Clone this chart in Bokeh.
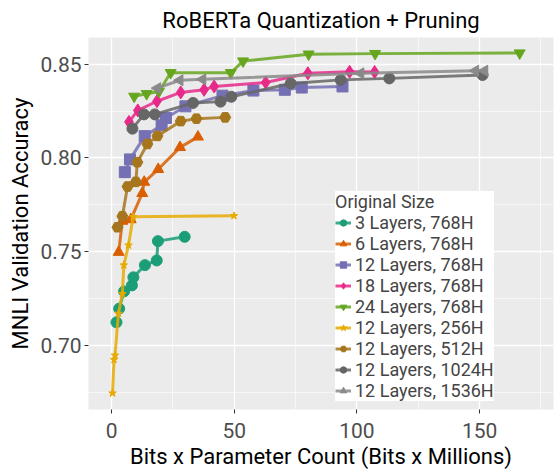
import numpy as np
from bokeh.plotting import figure
from bokeh.models import Range1d, FixedTicker, Legend, LegendItem, PrintfTickFormatter
from bokeh.embed import file_html
from bokeh.resources import INLINE

# ---------------- data ----------------
series_names = ["3 Layers, 768H", "6 Layers, 768H", "12 Layers, 768H", "18 Layers, 768H",
                "24 Layers, 768H", "12 Layers, 256H", "12 Layers, 512H", "12 Layers, 1024H",
                "12 Layers, 1536H"]

x_3L_768 = [2.0, 3.1, 5.1, 8.3, 8.9, 13.6, 18.4, 18.9, 29.8]
y_3L_768 = [0.7123, 0.7196, 0.7288, 0.7320, 0.7363, 0.7428, 0.7453, 0.7556, 0.7579]

x_6L_768 = [2.9, 4.4, 7.8, 12.5, 13.3, 19.0, 27.9, 35.2]
y_6L_768 = [0.7497, 0.7663, 0.7671, 0.7811, 0.7871, 0.7939, 0.8056, 0.8112]

x_12L_768 = [5.4, 7.5, 13.5, 20.4, 22.2, 30.1, 45.2, 57.8, 70.6, 77.5, 94.1]
y_12L_768 = [0.7924, 0.7992, 0.8116, 0.8174, 0.8213, 0.8275, 0.8332, 0.8359, 0.8363, 0.8375, 0.8381]

x_18L_768 = [7.1, 10.7, 18.5, 28.2, 37.7, 41.8, 62.8, 80.0, 97.0, 107.2]
y_18L_768 = [0.8192, 0.8253, 0.8302, 0.8349, 0.8363, 0.8381, 0.8402, 0.8451, 0.8459, 0.8458]

x_24L_768 = [9.2, 14.3, 19.3, 24.1, 48.6, 53.6, 80.3, 107.4, 166.3]
y_24L_768 = [0.8328, 0.8342, 0.8354, 0.8454, 0.8454, 0.8516, 0.8553, 0.8556, 0.8559]

x_12L_256 = [0.4, 1.0, 1.4, 2.8, 4.4, 5.0, 6.9, 8.8, 49.9]
y_12L_256 = [0.6745, 0.6924, 0.6947, 0.7170, 0.7275, 0.7428, 0.7534, 0.7686, 0.7691]

x_12L_512 = [2.4, 4.4, 6.5, 9.9, 10.5, 14.6, 18.7, 28.2, 34.6, 46.3]
y_12L_512 = [0.7630, 0.7689, 0.7847, 0.7872, 0.7977, 0.8074, 0.8117, 0.8196, 0.8209, 0.8216]

x_12L_1024 = [8.5, 13.2, 17.6, 33.2, 44.4, 48.8, 73.0, 93.4, 113.2, 151.2]
y_12L_1024 = [0.8156, 0.8232, 0.8232, 0.8293, 0.8300, 0.8326, 0.8397, 0.8416, 0.8424, 0.8442]

x_12L_1536 = [18.7, 27.8, 37.1, 101.5, 148.3, 152.0]
y_12L_1536 = [0.8372, 0.8414, 0.8419, 0.8451, 0.8465, 0.8465]

x_ticks = [0, 50, 100, 150]
y_ticks = [0.70, 0.75, 0.80, 0.85]

xs = [x_3L_768, x_6L_768, x_12L_768, x_18L_768, x_24L_768, x_12L_256, x_12L_512, x_12L_1024, x_12L_1536]
ys = [y_3L_768, y_6L_768, y_12L_768, y_18L_768, y_24L_768, y_12L_256, y_12L_512, y_12L_1024, y_12L_1536]

colors = ["#1B9E77", "#D95F02", "#7570B3", "#E7298A", "#66A61E", "#E6AB02", "#A6761D", "#666666", "#8A8A8A"]
markers = ["circle", "triangle", "square", "diamond", "inverted_triangle", "star", "hex", "circle", "triangle"]
msizes = [11, 11, 11, 13, 11, 8, 11, 11, 11]
angles = [0, 0, 0, 0, 0, 0, 0, 0, np.pi / 2]

FONT = "Roboto"

p = figure(width=555, height=471, output_backend="svg", toolbar_location=None,
           x_range=Range1d(-9.4, 180.1), y_range=Range1d(0.6658, 0.8642),
           min_border_left=88, min_border_right=2, min_border_top=37, min_border_bottom=57,
           background_fill_color="#EBEBEB", border_fill_color="white", outline_line_color=None,
           title="RoBERTa Quantization + Pruning")

p.title.align = "center"
p.title.text_font = FONT
p.title.text_font_size = "22px"
p.title.text_font_style = "normal"
p.title.text_color = "black"
p.title.standoff = 10

p.xaxis.ticker = FixedTicker(ticks=x_ticks, minor_ticks=[25, 75, 125, 175])
p.yaxis.ticker = FixedTicker(ticks=y_ticks, minor_ticks=[0.675, 0.725, 0.775, 0.825])
p.yaxis.formatter = PrintfTickFormatter(format="%.2f")

for ax in (p.xaxis[0], p.yaxis[0]):
    ax.axis_line_color = None
    ax.major_tick_line_color = "#333333"
    ax.major_tick_line_width = 1
    ax.major_tick_in = 0
    ax.major_tick_out = 4
    ax.minor_tick_line_color = None
    ax.major_label_text_font = FONT
    ax.major_label_text_font_size = "21px"
    ax.major_label_text_color = "#4D4D4D"
    ax.axis_label_text_font = FONT
    ax.axis_label_text_font_size = "22px"
    ax.axis_label_text_font_style = "normal"
    ax.axis_label_text_color = "black"

p.xaxis.major_label_standoff = 9
p.yaxis.major_label_standoff = 3
p.xaxis.axis_label = "Bits x Parameter Count (Bits x Millions)"
p.yaxis.axis_label = "MNLI Validation Accuracy"
p.xaxis.axis_label_standoff = 3
p.yaxis.axis_label_standoff = 5

for g in (p.xgrid[0], p.ygrid[0]):
    g.grid_line_color = "white"
    g.grid_line_width = 1.3
    g.minor_grid_line_color = "white"
    g.minor_grid_line_width = 0.6

items = []
for name, x, y, c, m, s, a in zip(series_names, xs, ys, colors, markers, msizes, angles):
    lr = p.line(x, y, line_color=c, line_width=3, line_alpha=0.85)
    sr = p.scatter(x, y, marker=m, size=s, angle=a, fill_color=c, line_color=c, fill_alpha=1.0)
    items.append(LegendItem(label=name, renderers=[lr, sr]))

legend = Legend(items=items, location=(247, 8), title="Original Size",
                background_fill_color="white", background_fill_alpha=1.0,
                border_line_color=None, padding=13, margin=0, spacing=0,
                label_height=21, glyph_height=21, glyph_width=16, label_standoff=4,
                label_text_font=FONT, label_text_font_size="18px",
                title_text_font=FONT, title_text_font_size="18px", title_text_font_style="normal",
                title_standoff=0)
p.add_layout(legend, "center")

open("out.html", "w").write(file_html(p, INLINE))
